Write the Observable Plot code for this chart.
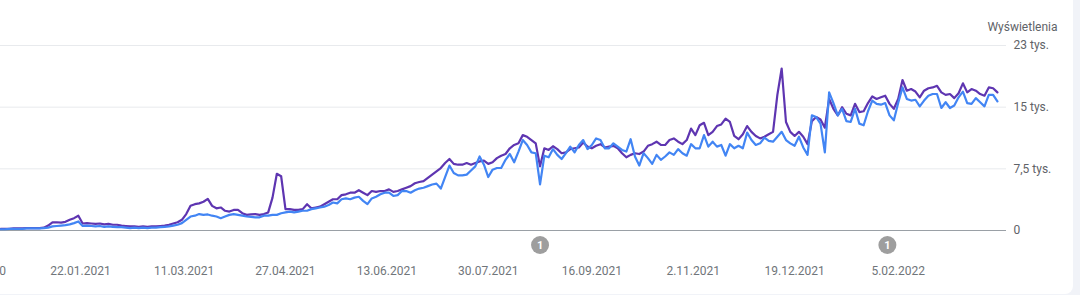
<!DOCTYPE html>
<html>
<head>
<meta charset="utf-8">
<script src="https://cdn.jsdelivr.net/npm/d3@7"></script>
<script src="https://cdn.jsdelivr.net/npm/@observablehq/plot@0.6"></script>
<style>
  html, body { margin: 0; padding: 0; background: #f1f3f8; overflow: hidden; width: 1080px; height: 295px; }
  #card { position: absolute; left: 0; top: 0; width: 1073px; height: 294px; background: #fff; border-bottom-right-radius: 8px; }
  #chart { position: absolute; left: 0; top: 0; }
</style>
</head>
<body>
<div id="card"></div>
<div id="chart"></div>
<script>
// ---- data (values in thousands), one sample every 2 days starting at startDate ----
const startDate = "2020-12-16";
const stepDays = 2;
const purpleSeries = [
  0.2,0.2,0.2,0.25,0.25,0.25,0.3,0.3,0.3,0.3,0.35,
  0.6,1.0,1.0,0.95,1.05,1.3,1.5,1.8,
  0.85,0.9,0.85,0.8,0.85,0.75,0.8,0.7,0.7,0.6,0.55,
  0.5,0.5,0.45,0.5,0.45,0.5,0.5,0.55,0.6,0.7,
  0.85,1.0,1.3,2.0,3.0,3.2,3.3,3.5,3.85,3.0,
  2.7,2.8,2.4,2.3,2.5,2.5,2.1,1.9,
  1.95,
  2.0,1.9,2.0,2.2,4.0,6.9,6.6,2.6,2.6,2.5,2.5,2.6,
  3.2,2.7,2.8,2.9,3.2,3.5,3.8,3.8,4.3,4.4,
  4.6,4.6,4.9,4.6,4.3,4.8,4.7,4.8,4.8,5.0,
  4.7,4.8,5.0,5.2,5.4,5.75,5.9,6.0,6.4,6.8,
  7.2,7.6,8.2,8.7,8.1,8.0,8.0,8.2,8.0,8.2,
  8.4,8.5,8.1,8.3,8.8,9.1,9.3,10.0,10.4,10.6,
  11.6,11.4,11.0,10.6,7.8,10.0,9.8,10.25,9.9,9.4,
  9.5,9.9,10.0,10.1,10.7,10.2,10.0,10.3,10.5,10.1,
  10.2,10.3,10.0,9.4,8.9,9.2,9.4,9.3,9.6,10.3,
  10.5,10.8,10.4,10.4,11.0,11.2,10.8,10.5,11.0,12.4,
  11.6,12.8,13.1,11.6,12.0,12.7,12.9,13.6,13.2,11.5,
  11.1,11.7,12.7,
  12.0,
  11.5,11.2,11.4,11.7,12.0,16.5,19.7,
  13.2,12.0,11.5,12.0,11.4,10.5,13.3,13.8,13.5,12.5,
  16.0,14.8,14.0,15.0,14.2,14.0,15.4,14.4,14.5,15.5,
  16.3,16.0,16.2,16.4,15.4,14.8,16.0,18.3,17.0,17.2,
  16.9,16.2,17.0,17.3,17.4,17.6,16.8,16.5,16.6,16.1,
  16.7,17.9,16.8,17.2,17.0,16.6,16.4,17.4,17.3,16.8
];
const blueSeries = [
  0.15,0.15,0.2,0.2,0.2,0.2,0.25,0.25,0.25,0.25,0.3,
  0.35,0.5,0.55,0.6,0.65,0.75,0.9,1.1,
  0.55,0.6,0.55,0.5,0.55,0.45,0.5,0.45,0.4,0.4,0.35,
  0.3,0.35,0.3,0.35,0.3,0.35,0.35,0.4,0.45,0.5,
  0.6,0.7,0.9,1.3,1.7,1.8,2.0,1.9,1.95,1.8,
  1.7,1.5,1.7,1.9,2.0,1.9,1.8,1.7,
  1.65,
  1.6,1.6,1.8,1.8,1.9,1.9,2.1,2.2,2.3,2.2,2.3,2.4,
  2.4,2.6,2.7,2.8,2.9,3.1,3.4,3.3,3.8,3.9,
  3.8,4.0,4.1,3.6,3.2,3.9,4.1,4.4,4.6,4.6,
  4.2,4.3,4.8,4.8,4.6,4.9,5.1,5.2,5.4,5.6,
  5.7,5.1,6.5,7.9,7.0,6.7,6.7,6.8,7.3,7.8,
  9.0,8.0,6.5,7.4,7.6,7.6,8.6,9.3,8.3,9.6,
  11.0,10.4,9.5,9.4,5.6,9.1,8.9,9.9,9.2,8.7,
  9.4,10.2,9.5,10.4,11.0,9.9,10.4,11.2,11.0,10.0,
  10.0,10.6,10.2,9.8,9.6,11.1,9.0,7.9,9.4,8.8,
  8.1,9.2,8.6,9.0,9.5,9.2,9.9,9.4,9.1,10.5,
  10.0,10.0,11.6,10.2,10.8,10.2,10.4,9.1,10.5,10.0,
  10.3,10.0,11.9,
  11.0,
  10.4,10.6,11.3,10.9,10.8,11.4,12.0,
  11.0,10.6,10.3,11.4,10.1,9.2,14.0,13.8,13.0,9.5,
  16.8,15.5,14.0,14.8,13.3,13.2,14.8,13.0,12.8,14.5,
  15.8,15.4,15.3,15.5,14.0,13.4,15.5,17.4,16.0,15.8,
  15.9,15.1,15.8,16.4,16.6,16.6,14.9,15.6,14.9,15.2,
  16.2,16.9,15.5,15.4,16.1,15.6,15.1,16.5,16.5,15.7
];
const xTickDates = ["2020-12-06","2021-01-22","2021-03-11","2021-04-27","2021-06-13","2021-07-30","2021-09-16","2021-11-02","2021-12-19","2022-02-05"];
const xTickLabels = ["6.12.2020","22.01.2021","11.03.2021","27.04.2021","13.06.2021","30.07.2021","16.09.2021","2.11.2021","19.12.2021","5.02.2022"];
const yTicks = [0, 7500, 15000, 22500];
const yTickLabels = ["0", "7,5 tys.", "15 tys.", "23 tys."];
const annotationDates = ["2021-08-23", "2022-01-31"];
const annotationLabels = ["1", "1"];
const seriesTitle = "Wyświetlenia";
const xDomain = ["2020-12-15T22:00:00Z", "2022-03-27T05:00:00Z"];

// ---- build tables ----
const start = new Date(startDate + "T00:00:00Z");
const toRows = (arr) => arr.map((v, i) => ({date: d3.utcDay.offset(start, i * stepDays), value: v * 1000}));
const purpleRows = toRows(purpleSeries);
const blueRows = toRows(blueSeries);
const xTicks = xTickDates.map(d => new Date(d + "T00:00:00Z"));
const annDates = annotationDates.map(d => new Date(d + "T00:00:00Z"));

const chart = Plot.plot({
  width: 1080,
  height: 295,
  marginLeft: 0,
  marginRight: 74,
  marginTop: 45,
  marginBottom: 65,
  style: {background: "transparent", fontFamily: "Roboto, sans-serif", fontSize: "12px", color: "#5f6368", overflow: "visible"},
  x: {type: "utc", domain: xDomain.map(d => new Date(d))},
  y: {domain: [0, 22500]},
  marks: [
    Plot.gridY(yTicks.slice(1), {stroke: "#e8eaed", strokeOpacity: 1}),
    Plot.ruleY([0], {stroke: "#9aa0a6", strokeWidth: 1}),
    Plot.axisY(yTicks, {anchor: "right", tickSize: 0, tickPadding: 7, label: null, fill: "#5f6368",
      tickFormat: d => yTickLabels[yTicks.indexOf(d)]}),
    Plot.axisX(xTicks, {anchor: "bottom", tickSize: 0, tickPadding: 36, label: null, fill: "#70757a",
      tickFormat: d => xTickLabels[xTicks.findIndex(t => +t === +d)]}),
    Plot.lineY(purpleRows, {x: "date", y: "value", stroke: "#5e35b1", strokeWidth: 2.2, curve: "linear"}),
    Plot.lineY(blueRows, {x: "date", y: "value", stroke: "#4285f4", strokeWidth: 2.2, curve: "linear"}),
    Plot.dot(annDates, {x: d => d, frameAnchor: "bottom", dy: 14.5, r: 9, fill: "#9e9e9e", stroke: "none"}),
    Plot.text(annDates, {x: d => d, frameAnchor: "bottom", dy: 14.5, lineAnchor: "middle", text: (d, i) => annotationLabels[i], fill: "white", fontSize: 11, fontWeight: "bold"}),
    Plot.text([seriesTitle], {frameAnchor: "top-right", dx: 51, dy: -18, lineAnchor: "middle", textAnchor: "end", fill: "#5f6368", fontSize: 12})
  ]
});
document.getElementById("chart").appendChild(chart);
</script>
</body>
</html>
